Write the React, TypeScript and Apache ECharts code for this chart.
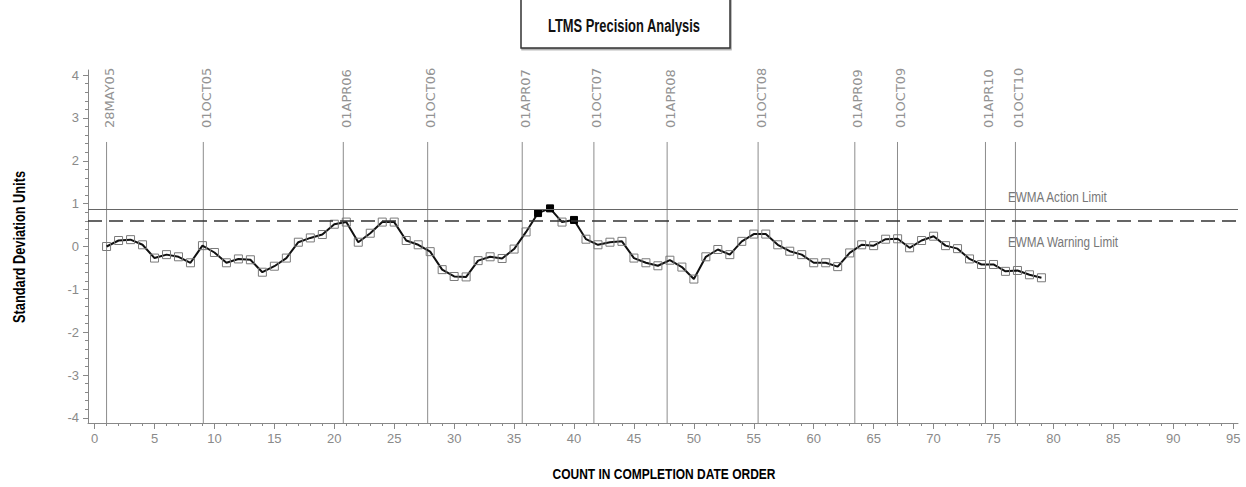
import React, { useEffect, useRef } from "react";
import * as echarts from "echarts";

// EWMA values (standard deviation units), count 1..79 in completion date order
const ewmaValues = [
  0.0, 0.14, 0.16, 0.04, -0.27, -0.19, -0.24, -0.38, 0.02, -0.14,
  -0.38, -0.29, -0.31, -0.6, -0.46, -0.27, 0.1, 0.2, 0.28, 0.52,
  0.57, 0.1, 0.31, 0.57, 0.57, 0.14, 0.04, -0.12, -0.54, -0.7,
  -0.71, -0.33, -0.24, -0.28, -0.06, 0.34, 0.78, 0.89, 0.57, 0.62,
  0.17, 0.04, 0.1, 0.12, -0.27, -0.38, -0.45, -0.32, -0.48, -0.76,
  -0.24, -0.07, -0.19, 0.12, 0.29, 0.29, 0.04, -0.11, -0.19, -0.38,
  -0.38, -0.47, -0.15, 0.04, 0.02, 0.17, 0.18, -0.03, 0.14, 0.24,
  0.02, -0.05, -0.29, -0.42, -0.42, -0.58, -0.56, -0.66, -0.73,
];
const flaggedCounts = [37, 38, 40];

const dateLinePositions = [1, 9.07, 20.75, 27.79, 35.68, 41.66, 47.77, 55.36, 63.43, 66.99, 74.33, 76.83];
const dateLabels = [
  "28MAY05", "01OCT05", "01APR06", "01OCT06", "01APR07", "01OCT07",
  "01APR08", "01OCT08", "01APR09", "01OCT09", "01APR10", "01OCT10",
];

const actionLimit = 0.86;
const warningLimit = 0.59;

const xTickValues = [0, 5, 10, 15, 20, 25, 30, 35, 40, 45, 50, 55, 60, 65, 70, 75, 80, 85, 90, 95];
const yTickValues = [-4, -3, -2, -1, 0, 1, 2, 3, 4];

const titleText = "LTMS Precision Analysis";
const xAxisTitle = "COUNT IN COMPLETION DATE ORDER";
const yAxisTitle = "Standard Deviation Units";
const actionLabel = "EWMA Action Limit";
const warningLabel = "EWMA Warning Limit";

const X_MIN = -0.55;
const X_MAX = 95.4;
const Y_MIN = -4.12;
const Y_MAX = 4.12;
const DATE_LINE_TOP = 2.44;

const sans = '"Liberation Sans", Arial, sans-serif';

export default function App() {
  const ref = useRef<HTMLDivElement>(null);

  useEffect(() => {
    document.body.style.margin = "0";
    if (!ref.current) return;
    const chart = echarts.init(ref.current, undefined, { renderer: "svg" });

    const xMinor: number[] = [];
    for (let v = 0; v <= 95; v++) if (v % 5 !== 0) xMinor.push(v);
    const yMinor: number[] = [];
    for (let k = -20; k <= 20; k++) if (k % 5 !== 0) yMinor.push(k / 5);

    const lineData = ewmaValues.map((v, i) => {
      const count = i + 1;
      if (flaggedCounts.includes(count)) {
        return {
          value: [count, v],
          symbolSize: 7,
          itemStyle: { color: "#000", borderColor: "#000", borderWidth: 1 },
        };
      }
      return { value: [count, v] };
    });

    const labelStyle = { color: "#8a8a8a", fontFamily: sans, fontSize: 13 };

    chart.setOption({
      animation: false,
      backgroundColor: "#fff",
      grid: { left: 88, right: 8, top: 70, bottom: 64 },
      xAxis: [
        {
          type: "value",
          min: X_MIN,
          max: X_MAX,
          axisLine: { show: true, onZero: false, lineStyle: { color: "#888", width: 1 } },
          axisTick: { show: true, customValues: xTickValues, length: 6, lineStyle: { color: "#888" } },
          axisLabel: { customValues: xTickValues, margin: 9, ...labelStyle },
          splitLine: { show: false },
        },
        {
          type: "value",
          min: X_MIN,
          max: X_MAX,
          position: "bottom",
          axisLine: { show: false, onZero: false },
          axisTick: { show: true, customValues: xMinor, length: 3, lineStyle: { color: "#888" } },
          axisLabel: { show: false },
          splitLine: { show: false },
        },
      ],
      yAxis: [
        {
          type: "value",
          min: Y_MIN,
          max: Y_MAX,
          axisLine: { show: true, onZero: false, lineStyle: { color: "#888", width: 1 } },
          axisTick: { show: true, customValues: yTickValues, length: 5, lineStyle: { color: "#888" } },
          axisLabel: { customValues: yTickValues, margin: 9, ...labelStyle },
          splitLine: { show: false },
        },
        {
          type: "value",
          min: Y_MIN,
          max: Y_MAX,
          position: "left",
          axisLine: { show: false, onZero: false },
          axisTick: { show: true, customValues: yMinor, length: 3, lineStyle: { color: "#888" } },
          axisLabel: { show: false },
          splitLine: { show: false },
        },
      ],
      series: [
        {
          type: "custom",
          xAxisIndex: 0,
          yAxisIndex: 0,
          silent: true,
          clip: false,
          data: dateLinePositions.map((x) => [x]),
          renderItem: (params: any, api: any) => {
            const x = api.value(0);
            const top = api.coord([x, DATE_LINE_TOP]);
            const bottom = api.coord([x, Y_MIN]);
            return {
              type: "group",
              children: [
                {
                  type: "line",
                  shape: { x1: top[0], y1: top[1], x2: bottom[0], y2: bottom[1] },
                  style: { stroke: "#8c8c8c", lineWidth: 1 },
                },
                {
                  type: "text",
                  x: top[0] + 3,
                  y: top[1] - 14,
                  rotation: Math.PI / 2,
                  style: {
                    text: dateLabels[params.dataIndex],
                    fill: "#939393",
                    font: '13px "DejaVu Sans", sans-serif',
                    align: "left",
                    verticalAlign: "middle",
                  },
                },
              ],
            };
          },
        },
        {
          type: "line",
          xAxisIndex: 0,
          yAxisIndex: 0,
          data: lineData,
          symbol: "rect",
          symbolSize: 8,
          showSymbol: true,
          lineStyle: { color: "#111", width: 2 },
          itemStyle: { color: "rgba(255,255,255,0)", borderColor: "#7a7a7a", borderWidth: 1 },
          emphasis: { disabled: true },
          z: 3,
          markLine: {
            silent: true,
            symbol: "none",
            label: { show: false },
            data: [
              { yAxis: actionLimit, lineStyle: { type: "solid", color: "#666", width: 1 } },
              { yAxis: warningLimit, lineStyle: { type: [14, 7], color: "#333", width: 1.6 } },
            ],
          },
        },
      ],
      graphic: [
        {
          type: "rect",
          shape: { x: 521, y: -2, width: 209, height: 50 },
          style: { fill: "#fff", stroke: "#333", lineWidth: 1.5, shadowColor: "rgba(0,0,0,0.35)", shadowOffsetX: 1, shadowOffsetY: 1.5, shadowBlur: 1 },
        },
        {
          type: "text",
          x: 624,
          y: 25,
          scaleX: 0.68,
          style: {
            text: titleText,
            fill: "#111",
            font: `bold 19px ${sans}`,
            align: "center",
            verticalAlign: "middle",
          },
        },
        {
          type: "text",
          x: 664,
          y: 474,
          scaleX: 0.8,
          style: {
            text: xAxisTitle,
            fill: "#000",
            font: `bold 15px ${sans}`,
            align: "center",
            verticalAlign: "middle",
          },
        },
        {
          type: "text",
          x: 19,
          y: 247,
          rotation: Math.PI / 2,
          scaleX: 0.8,
          style: {
            text: yAxisTitle,
            fill: "#000",
            font: `bold 16px ${sans}`,
            align: "center",
            verticalAlign: "middle",
          },
        },
        {
          type: "text",
          x: 1008,
          y: 197,
          scaleX: 0.78,
          style: {
            text: actionLabel,
            fill: "#777",
            font: `15px ${sans}`,
            align: "left",
            verticalAlign: "middle",
          },
        },
        {
          type: "text",
          x: 1008,
          y: 242,
          scaleX: 0.78,
          style: {
            text: warningLabel,
            fill: "#777",
            font: `15px ${sans}`,
            align: "left",
            verticalAlign: "middle",
          },
        },
      ],
    });

    return () => chart.dispose();
  }, []);

  return <div ref={ref} style={{ width: 1246, height: 487 }} />;
}
